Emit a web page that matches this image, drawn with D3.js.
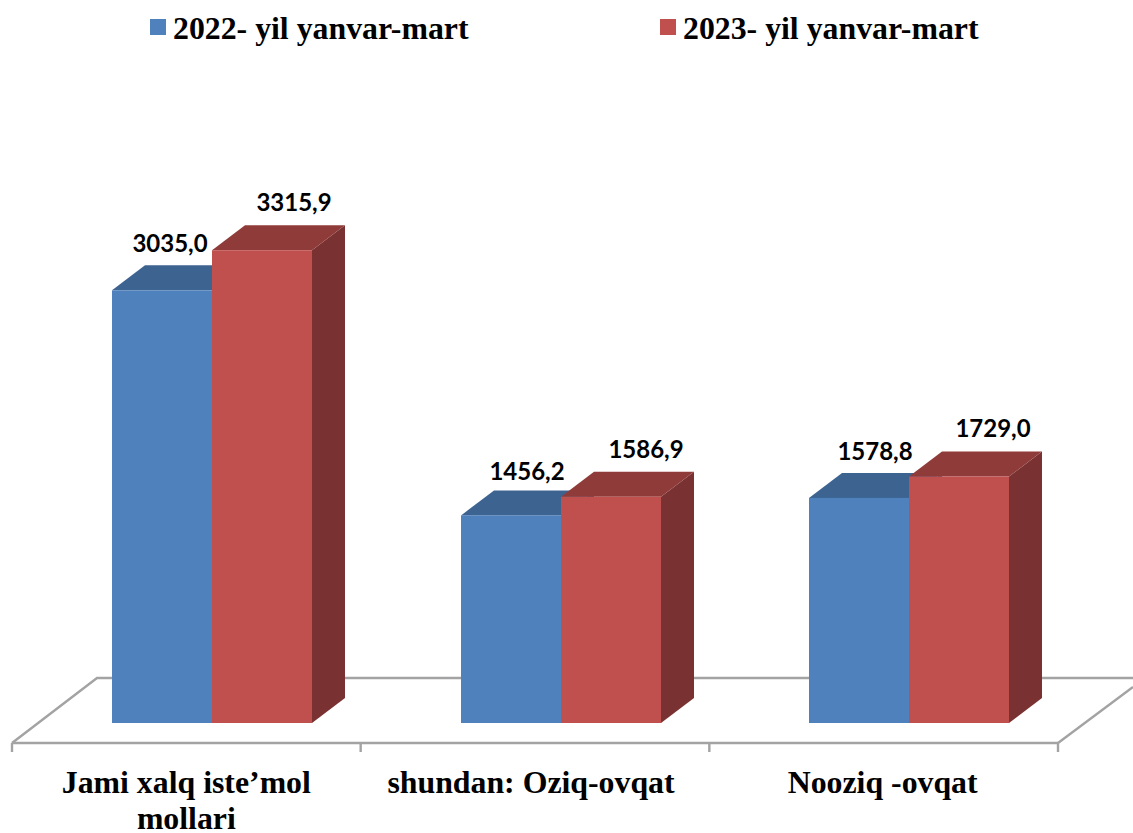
<!DOCTYPE html>
<html><head><meta charset="utf-8">
<script src="https://cdn.jsdelivr.net/npm/d3@7/dist/d3.min.js"></script>
<style>html,body{margin:0;padding:0;background:#fff}svg{display:block}</style></head>
<body><svg id="c" width="1133" height="833"></svg>
<script>
const categories=[["Jami xalq iste’mol","mollari"],["shundan: Oziq-ovqat"],["Nooziq -ovqat"]];
const seriesNames=["2022- yil yanvar-mart","2023- yil yanvar-mart"];
const values2022=[3035.0,1456.2,1578.8];
const values2023=[3315.9,1586.9,1729.0];
const labels2022=["3035,0","1456,2","1578,8"];
const labels2023=["3315,9","1586,9","1729,0"];

const svg=d3.select("#c");
const x=d3.scaleBand().domain(d3.range(categories.length)).range([12,1058]);
const y=d3.scaleLinear().domain([0,3500]).range([723,224]);
const barW=100,dx=33,dy=-25,floorFront=743,tickLen=9;
const fills=[{f:"#4f81bd",t:"#3d6391",s:"#335a85"},{f:"#c0504d",t:"#8f3b39",s:"#793231"}];
const serif="'Liberation Serif','Times New Roman',serif";
const sans="Lato,Carlito,Calibri,sans-serif";
const labelDx=[[58,66,66],[82,85,84]];
const labelDy=[[-38,-35,-38],[-39,-39,-39]];

// floor
const floor=svg.append("g").attr("fill","none").attr("stroke","#a3a3a3").attr("stroke-width",2.4);
floor.append("path").attr("d",`M12,${floorFront}L${12+85},${floorFront-65}H1133`);
floor.append("path").attr("d",`M1058,${floorFront}L1133,${floorFront-56}`);
floor.append("path").attr("d",`M12,${floorFront}H1058`);
floor.selectAll("line").data(d3.range(categories.length+1)).join("line")
  .attr("x1",i=>i<3?x(i):1058).attr("x2",i=>i<3?x(i):1058)
  .attr("y1",floorFront).attr("y2",floorFront+tickLen);

// bars (3D)
const data=[];
categories.forEach((c,i)=>{
  [values2022,values2023].forEach((vals,s)=>{
    data.push({i,s,v:vals[i],label:(s?labels2023:labels2022)[i]});
  });
});
const bx=d=>Math.floor(x(d.i)+x.bandwidth()/2-74)+d.s*barW;
const g=svg.append("g");
const bar=g.selectAll("g").data(data).join("g");
bar.append("path").attr("fill",d=>fills[d.s].s)
  .attr("d",d=>{const X=bx(d)+barW,t=y(d.v),b=y(0);return `M${X},${t}l${dx},${dy}V${b+dy}L${X},${b}Z`;});
bar.append("path").attr("fill",d=>fills[d.s].t)
  .attr("d",d=>{const X=bx(d),t=y(d.v);return `M${X},${t}l${dx},${dy}h${barW}l${-dx},${-dy}Z`;});
bar.append("rect").attr("fill",d=>fills[d.s].f)
  .attr("x",bx).attr("y",d=>y(d.v)).attr("width",barW).attr("height",d=>y(0)-y(d.v));
bar.append("text").text(d=>d.label)
  .attr("x",d=>bx(d)+labelDx[d.s][d.i]).attr("y",d=>y(d.v)+labelDy[d.s][d.i])
  .attr("text-anchor","middle").attr("font-family",sans).attr("font-weight",700)
  .attr("font-size",24).attr("fill","#000");

// category labels
const cat=svg.append("g").attr("font-family",serif).attr("font-weight",700).attr("font-size",31.8).attr("text-anchor","middle");
const catDx=[0,-4,-1];
categories.forEach((c,i)=>{
  const t=cat.append("text").attr("y",793);
  c.forEach((l,j)=>t.append("tspan").attr("x",x(i)+x.bandwidth()/2+catDx[i]).attr("dy",j?36:0).text(l));
});

// legend
const legX=[150,660];
const leg=svg.append("g").selectAll("g").data(seriesNames).join("g");
leg.append("rect").attr("x",(d,i)=>legX[i]).attr("y",19).attr("width",16).attr("height",16).attr("fill",(d,i)=>fills[i].f);
leg.append("text").text(d=>d).attr("x",(d,i)=>legX[i]+23).attr("y",39)
  .attr("font-family",serif).attr("font-weight",700).attr("font-size",31.8);
</script></body></html>
